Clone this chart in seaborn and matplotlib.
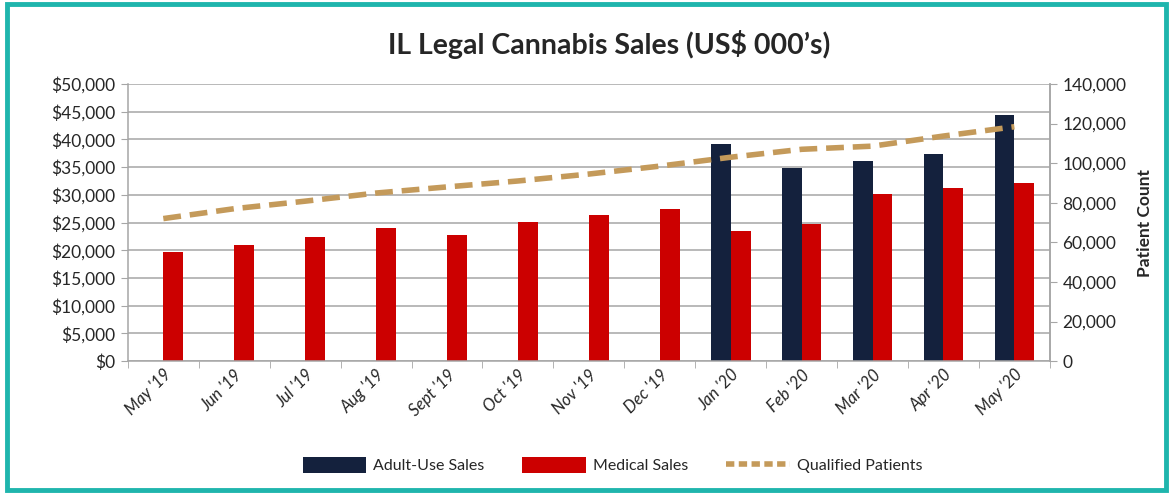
import numpy as np
import pandas as pd
import matplotlib
matplotlib.use("Agg")
import matplotlib.pyplot as plt
import seaborn as sns
from matplotlib.patches import Rectangle
from matplotlib.ticker import FuncFormatter, MultipleLocator, FixedLocator

months = ["May '19", "Jun '19", "Jul '19", "Aug '19", "Sept '19", "Oct '19", "Nov '19",
          "Dec '19", "Jan '20", "Feb '20", "Mar '20", "Apr '20", "May '20"]
adult_use = [np.nan] * 8 + [39200, 34800, 36100, 37400, 44400]
medical = [19700, 21000, 22400, 24000, 22700, 25100, 26300, 27400, 23500, 24800, 30100, 31200, 32100]
patients = [72000, 77000, 80800, 84900, 88000, 91000, 94500, 98500, 103000, 107000, 108600, 113700, 118400]

series_names = ["Adult-Use Sales", "Medical Sales"]
colors = {"Adult-Use Sales": "#14213D", "Medical Sales": "#CC0000"}
line_color = "#C49A5A"

df = pd.DataFrame({
    "month": months * 2,
    "series": [series_names[0]] * len(months) + [series_names[1]] * len(months),
    "value": adult_use + medical,
})

sns.set_style("white")
plt.rcParams["font.family"] = ["Lato", "DejaVu Sans"]

fig = plt.figure(figsize=(11.73, 4.94), dpi=100)
ax = fig.add_axes([0.109, 0.269, 0.786, 0.561])

sns.barplot(data=df, x="month", y="value", hue="series", palette=colors,
            width=0.56, dodge=True, ax=ax, legend=False, saturation=1, order=months,
            linewidth=0)

ax.set_ylim(0, 50000)
ax.yaxis.set_major_locator(MultipleLocator(5000))
ax.yaxis.set_major_formatter(FuncFormatter(lambda v, p: f"${v:,.0f}"))
ax.set_xlim(-0.5, len(months) - 0.5)
ax.grid(axis="y", color="#A6A6A6", linewidth=1.1)
ax.set_axisbelow(True)
ax.set_xlabel("")
ax.set_ylabel("")
ax.spines["top"].set_visible(False)
for s in ["left", "bottom", "right"]:
    ax.spines[s].set_color("#A6A6A6")
    ax.spines[s].set_linewidth(1.1)
ax.tick_params(axis="y", labelsize=12.5, length=5, color="#A6A6A6", left=True, pad=4)
ax.tick_params(axis="x", which="major", length=0, labelsize=12, pad=4)
ax.xaxis.set_minor_locator(FixedLocator(np.arange(-0.5, len(months), 1.0)))
ax.tick_params(axis="x", which="minor", length=5, color="#A6A6A6", bottom=True)
plt.setp(ax.get_xticklabels(), rotation=45, ha="right", rotation_mode="anchor")
for lbl in ax.get_xticklabels():
    lbl.set_style("italic")

ax2 = ax.twinx()
sns.lineplot(x=np.arange(len(months)), y=patients, ax=ax2, color=line_color,
             linewidth=4, linestyle=(0, (3.2, 1.6)), legend=False)
ax2.set_ylim(0, 140000)
ax2.yaxis.set_major_locator(MultipleLocator(20000))
ax2.yaxis.set_major_formatter(FuncFormatter(lambda v, p: f"{v:,.0f}"))
ax2.tick_params(axis="y", labelsize=12.5, length=5, color="#A6A6A6", right=True, pad=4)
ax2.set_ylabel("Patient Count", fontsize=12.5, fontweight="bold", labelpad=8)
for s in ["top", "left", "bottom"]:
    ax2.spines[s].set_visible(False)
ax2.spines["right"].set_color("#A6A6A6")
ax2.spines["right"].set_linewidth(1.1)
ax2.grid(False)

fig.text(0.519, 0.91, "IL Legal Cannabis Sales (US$ 000\u2019s)", ha="center", va="center",
         fontsize=20.5, fontweight="bold")

handles = [Rectangle((0, 0), 1, 1, color=colors[series_names[0]], linewidth=0),
           Rectangle((0, 0), 1, 1, color=colors[series_names[1]], linewidth=0),
           plt.Line2D([0], [0], color=line_color, linewidth=4, linestyle=(0, (1.5, 0.8)))]
fig.legend(handles, series_names + ["Qualified Patients"], loc="center",
           bbox_to_anchor=(0.522, 0.058), ncol=3, frameon=False, fontsize=11.5,
           handlelength=4.0, handleheight=1.1, columnspacing=2.4, handletextpad=0.4)

fig.patches.append(Rectangle((0.006, 0.008), 0.988, 0.984, transform=fig.transFigure,
                             fill=False, edgecolor="#1FB5AD", linewidth=3.5))

fig.savefig("out.png", dpi=100)
